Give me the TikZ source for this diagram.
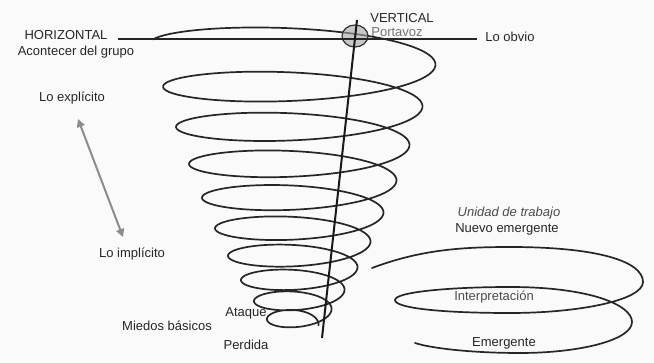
\documentclass[tikz,border=0pt]{standalone}
\usepackage{fontspec}
\setmainfont{Liberation Sans}
\usetikzlibrary{arrows.meta}
\begin{document}
\begin{tikzpicture}[x=1pt,y=-1pt,
  lbl/.style={font=\fontsize{13}{15}\selectfont, text=black!85, inner sep=0pt, anchor=base},
  spiral/.style={line width=1.7pt, draw=black!85, line cap=round},
  axisline/.style={line width=2pt, draw=black!90},
  hline/.style={line width=1.3pt, draw=black!85},
  grayarrow/.style={draw=black!45, line width=2pt, {Triangle[length=8pt,width=8pt]}-{Triangle[length=8pt,width=8pt]}}]
\fill[black!2] (0,0) rectangle (654,363);
\useasboundingbox (0,0) rectangle (654,363);
% labels
\node[lbl] (horiz) at (66,40) {HORIZONTAL};
\node[lbl] (acont) at (76,56) {Acontecer del grupo};
\node[lbl] (explic) at (72,102) {Lo explícito};
\node[lbl] (vert) at (402,23) {VERTICAL};
\node[lbl, text=black!55] (porta) at (397,37) {Portavoz};
\node[lbl] (obvio) at (510,42) {Lo obvio};
\node[lbl] (implic) at (132,258) {Lo implícito};
\node[lbl] (miedos) at (167,331) {Miedos básicos};
\node[lbl] (ataque) at (246,317) {Ataque};
\node[lbl] (perdida) at (246,350) {Perdida};
\node[lbl, font=\fontsize{13}{15}\selectfont\itshape, text=black!70] (unidad) at (509,217) {Unidad de trabajo};
\node[lbl] (nuevo) at (507,233) {Nuevo emergente};
\node[lbl, text=black!70] (interp) at (494,301) {Interpretación};
\node[lbl] (emerg) at (504,347) {Emergente};
% main conical spiral
\draw[spiral] plot[domain=0.03:9.5, samples=700, smooth, variable=\t]
  ({296-(146-13*\t)*cos(360*\t)}, {43+45*\t-1.6*\t*\t-(26-1.5*\t)*sin(360*\t)});
% portavoz circle
\draw[line width=1.2pt, draw=black!80, fill=black!35, fill opacity=0.6] (355,36) ellipse [x radius=13pt, y radius=11pt];
% horizontal line
\coordinate (hl) at (118,39);
\coordinate (hr) at (477,39);
\draw[hline] (hl) -- (hr);
% vertical axis
\coordinate (axtop) at (357,20);
\coordinate (axbot) at (322,338);
\draw[axisline] (axtop) -- (axbot);
% explicit / implicit arrow
\coordinate (arrtop) at (78,119);
\coordinate (arrbot) at (123,237);
\draw[grayarrow] (arrtop) -- (arrbot);
% work-unit spiral
\coordinate (ws) at (372,268);
\coordinate (we) at (415,343);
\draw[spiral] (ws) .. controls (420,250) and (460,247) .. (510,247)
  .. controls (600,247) and (643,262) .. (643,282)
  .. controls (643,300) and (580,313) .. (510,313)
  .. controls (440,313) and (395,308) .. (395,300)
  .. controls (395,292) and (450,287) .. (510,287)
  .. controls (590,287) and (632,305) .. (632,322)
  .. controls (632,340) and (580,353) .. (520,353)
  .. controls (470,353) and (430,348) .. (we);
\end{tikzpicture}
\end{document}
